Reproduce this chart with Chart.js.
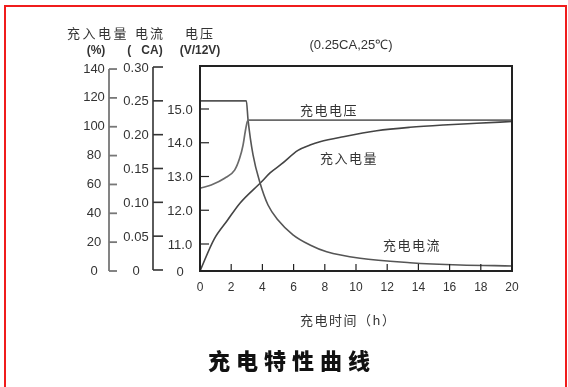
<!DOCTYPE html>
<html>
<head>
<meta charset="utf-8">
<script src="https://cdn.jsdelivr.net/npm/chart.js@4.4.1/dist/chart.umd.min.js"></script>
<style>
  html,body{margin:0;padding:0;background:#fff;}
  #wrap{width:568px;height:387px;}
</style>
</head>
<body>
<div id="wrap"><canvas id="c" width="568" height="387"></canvas></div>
<script>
/* ---- data ---- */
const hourTicks = [0,2,4,6,8,10,12,14,16,18,20];
const pctTicks = [0,20,40,60,80,100,120,140];
const curTicks = [0,0.05,0.10,0.15,0.20,0.25,0.30];
const curTickLabels = ['0','0.05','0.10','0.15','0.20','0.25','0.30'];
const voltTicks = [10.2,11,12,13,14,15];
const voltTickLabels = ['0','11.0','12.0','13.0','14.0','15.0'];

// 充电电流 (CA)
const currentHours = [0,2.97,3.08,3.4,3.83,4.36,5.0,5.96,7.05,8.12,10.26,13.46,16.67,20];
const currentVals  = [0.25,0.25,0.222,0.17,0.13,0.096,0.074,0.052,0.037,0.027,0.0173,0.0108,0.0074,0.006];
// 充电电压 (V/12V)
const voltHours = [0,0.72,1.58,2.22,2.54,2.76,2.9,3.03,3.1,20];
const voltVals  = [12.65,12.75,12.95,13.19,13.54,13.93,14.33,14.62,14.67,14.67];
// 充入电量 (%)
const chargeHours = [0,0.9,1.75,2.56,3.93,4.49,5.21,6.28,7.05,7.69,9.19,11.33,13.46,15.6,17.74,20];
const chargeVals  = [0,22,35,47,61.7,68,74,83.6,87.3,89.6,93.1,97.2,99.6,101.2,102.4,103.6];

const pts = (xs, ys) => xs.map((x,i)=>({x:x, y:ys[i]}));

/* ---- helpers ---- */
const CJK = '"Noto Sans CJK SC", sans-serif';
const LAT = '"Liberation Sans", Arial, sans-serif';
function spaced(ctx, text, x, y, gap){
  // draws text char by char starting at x (left), vertically centred at y
  ctx.textAlign = 'left';
  for(const ch of text){
    ctx.fillText(ch, x, y);
    x += ctx.measureText(ch).width + gap;
  }
}

const decor = {
  id:'decor',
  afterDraw(chart){
    const ctx = chart.ctx, a = chart.chartArea, s = chart.scales;
    ctx.save();
    // red page border
    ctx.strokeStyle = '#f01c1c'; ctx.lineWidth = 2;
    ctx.beginPath();
    ctx.moveTo(5,387); ctx.lineTo(5,6); ctx.lineTo(566,6); ctx.lineTo(566,387);
    ctx.stroke();

    // plot frame
    ctx.strokeStyle = '#222'; ctx.lineWidth = 2;
    ctx.strokeRect(a.left, a.top, a.right-a.left, a.bottom-a.top);

    ctx.fillStyle = '#333'; ctx.textBaseline = 'middle';
    // x ticks inside + labels
    ctx.lineWidth = 1.2;
    ctx.font = '12px ' + LAT; ctx.textAlign = 'center';
    hourTicks.forEach(h=>{
      const x = s.x.getPixelForValue(h);
      ctx.beginPath(); ctx.moveTo(x, a.bottom); ctx.lineTo(x, a.bottom-7); ctx.stroke();
      ctx.fillText(String(h), x, 288);
    });

    // voltage ticks (inside plot) + labels
    ctx.font = '13px ' + LAT;
    voltTicks.forEach((v,i)=>{
      const y = s.yVolt.getPixelForValue(v);
      if(i>0){ ctx.beginPath(); ctx.moveTo(a.left, y); ctx.lineTo(a.left+9, y); ctx.stroke(); }
      ctx.fillText(voltTickLabels[i], 180, y+1);
    });

    // current axis
    const cx = 153;
    ctx.strokeStyle = '#333'; ctx.lineWidth = 1.6;
    ctx.beginPath();
    ctx.moveTo(cx, s.yCur.getPixelForValue(0.30)); ctx.lineTo(cx, s.yCur.getPixelForValue(0)); ctx.stroke();
    curTicks.forEach((v,i)=>{
      const y = s.yCur.getPixelForValue(v);
      ctx.beginPath(); ctx.moveTo(cx, y); ctx.lineTo(cx+10, y); ctx.stroke();
      ctx.fillText(curTickLabels[i], 136, y+1);
    });

    // percent axis
    const px = 109;
    ctx.strokeStyle = '#777'; ctx.lineWidth = 1.8;
    ctx.beginPath();
    ctx.moveTo(px, s.yPct.getPixelForValue(140)); ctx.lineTo(px, s.yPct.getPixelForValue(0)); ctx.stroke();
    pctTicks.forEach(v=>{
      const y = s.yPct.getPixelForValue(v);
      ctx.beginPath(); ctx.moveTo(px, y); ctx.lineTo(px+8, y); ctx.stroke();
      ctx.fillText(String(v), 94, y);
    });

    // column headers
    ctx.font = '13px ' + CJK;
    spaced(ctx, '充入电量', 67, 33, 2.5);
    spaced(ctx, '电流', 135, 33, 2);
    spaced(ctx, '电压', 185, 33, 2);
    ctx.font = 'bold 12px ' + LAT; ctx.textAlign = 'center';
    ctx.fillText('(%)', 96, 51);
    ctx.fillText('(   CA)', 145, 51);
    ctx.fillText('(V/12V)', 200, 51);
    ctx.font = '13px ' + LAT;
    ctx.fillText('(0.25CA,25℃)', 351, 45);

    // curve labels
    ctx.font = '13px ' + CJK;
    spaced(ctx, '充电电压', 300, 110, 1.5);
    spaced(ctx, '充入电量', 320, 158, 1.5);
    spaced(ctx, '充电电流', 383, 245, 1.5);

    // axis title
    spaced(ctx, '充电时间（h）', 300, 320, 1.5);

    // chart title
    ctx.fillStyle = '#111';
    ctx.font = '900 22px ' + CJK;
    spaced(ctx, '充电特性曲线', 208, 361, 6);
    ctx.restore();
  }
};

new Chart(document.getElementById('c'), {
  type:'line',
  data:{ datasets:[
    {label:'充电电压', data:pts(voltHours, voltVals), yAxisID:'yVolt', borderColor:'#6a6a6a', borderWidth:1.7},
    {label:'充电电流', data:pts(currentHours, currentVals), yAxisID:'yCur', borderColor:'#555', borderWidth:1.6},
    {label:'充入电量', data:pts(chargeHours, chargeVals), yAxisID:'yPct', borderColor:'#444', borderWidth:1.6}
  ]},
  options:{
    responsive:false, animation:false, devicePixelRatio:1,
    layout:{ padding:{left:200, top:66, right:56, bottom:116} },
    elements:{ point:{radius:0}, line:{cubicInterpolationMode:'monotone', fill:false} },
    plugins:{ legend:{display:false}, tooltip:{enabled:false} },
    scales:{
      x:{ type:'linear', min:0, max:20, display:false },
      yPct:{ type:'linear', min:0, max:142.1, display:false },
      yCur:{ type:'linear', min:-0.0015, max:0.3015, display:false },
      yVolt:{ type:'linear', min:10.2, max:16.274, display:false }
    }
  },
  plugins:[decor]
});
</script>
</body>
</html>
